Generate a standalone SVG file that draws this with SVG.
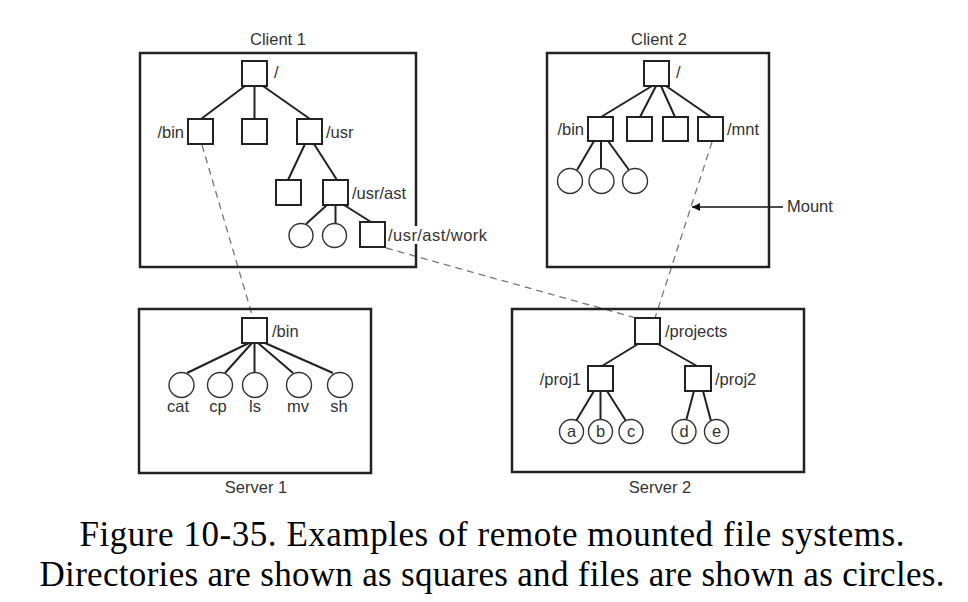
<svg xmlns="http://www.w3.org/2000/svg" width="968" height="602" viewBox="0 0 968 602">
<defs>
<style>
.box{fill:none;stroke:#222;stroke-width:2.5}
.dir{fill:#fff;stroke:#222;stroke-width:2}
.file{fill:#fff;stroke:#333;stroke-width:1.4}
.edge{stroke:#222;stroke-width:2;fill:none}
.dash{stroke:#777;stroke-width:1.3;stroke-dasharray:7,5;fill:none}
.lbl{font-family:"Liberation Sans",Arial,sans-serif;font-size:16.5px;fill:#333}
.mid{text-anchor:middle}
.end{text-anchor:end}
.cap{font-family:"Liberation Serif","Times New Roman",serif;font-size:35px;fill:#000;text-anchor:middle}
</style>
<marker id="ah" viewBox="0 0 10 10" refX="10" refY="5" markerWidth="8" markerHeight="8" markerUnits="userSpaceOnUse" orient="auto">
<path d="M0,0 L10,5 L0,10 Z" fill="#111"/>
</marker>
</defs>

<g id="connectors">
<!-- client 1 tree -->
<path class="edge" d="M245,86 L201,119 M254.5,86 L254.5,119 M263,86 L310,119"/>
<path class="edge" d="M305,144 L288,180 M314,144 L337,180"/>
<path class="edge" d="M327,205 L306,224 M335.5,205 L335.5,223 M344,205 L371,222"/>
<!-- client 2 tree -->
<path class="edge" d="M652,86 L601,117 M656,86 L640,117 M661,86 L675,117 M666,86 L711,117"/>
<path class="edge" d="M594,141 L577,170 M601,141 L601,168.5 M608,141 L629,170"/>
<!-- server 1 tree -->
<path class="edge" d="M249,343 L187,373 M252,343 L225,373 M254.5,343 L254.5,372.5 M258,343 L293,373 M265,343 L333,373"/>
<!-- server 2 tree -->
<path class="edge" d="M638,344 L602,366 M658,344 L697,366"/>
<path class="edge" d="M594,391 L576,421 M600.5,391 L600.5,420 M607,391 L626,421"/>
<path class="edge" d="M694,391 L686,421 M703,391 L711,421"/>
<!-- dashed mount links -->
<path class="dash" d="M202,145 L253,318"/>
<path class="dash" d="M386,248 L636,318"/>
<path class="dash" d="M712,142 L655,318"/>
<!-- Mount arrow -->
<path d="M783,207 L692,207" stroke="#111" stroke-width="1.6" fill="none" marker-end="url(#ah)"/>
</g>

<g id="client1">
<rect class="box" x="140" y="53" width="276" height="214"/>
<text class="lbl mid" x="278" y="45">Client 1</text>
<rect class="dir" x="242" y="61" width="25" height="25"/>
<text class="lbl" x="274" y="78">/</text>
<rect class="dir" x="188" y="119" width="25" height="25"/>
<text class="lbl end" x="184" y="138">/bin</text>
<rect class="dir" x="242" y="119" width="25" height="25"/>
<rect class="dir" x="297" y="119" width="25" height="25"/>
<text class="lbl" x="326" y="138">/usr</text>
<rect class="dir" x="276" y="180" width="25" height="25"/>
<rect class="dir" x="323" y="180" width="25" height="25"/>
<text class="lbl" x="352" y="199">/usr/ast</text>
<circle class="file" cx="301" cy="235.5" r="12"/>
<circle class="file" cx="334.5" cy="235.5" r="12"/>
<rect class="dir" x="360" y="222" width="25" height="25"/>
<rect x="387" y="226" width="102" height="18" fill="#fff"/>
<text class="lbl" x="388" y="241" textLength="99">/usr/ast/work</text>
</g>

<g id="client2">
<rect class="box" x="547" y="53" width="222" height="214"/>
<text class="lbl mid" x="659" y="45">Client 2</text>
<rect class="dir" x="644" y="61" width="25" height="25"/>
<text class="lbl" x="676" y="78">/</text>
<rect class="dir" x="588" y="117" width="25" height="24"/>
<text class="lbl end" x="584" y="135">/bin</text>
<rect class="dir" x="627" y="117" width="25" height="24"/>
<rect class="dir" x="663" y="117" width="25" height="24"/>
<rect class="dir" x="698" y="117" width="25" height="24"/>
<text class="lbl" x="727" y="135">/mnt</text>
<circle class="file" cx="570" cy="181" r="12.5"/>
<circle class="file" cx="601.5" cy="181" r="12.5"/>
<circle class="file" cx="635" cy="181" r="12.5"/>
<text class="lbl" x="787" y="212">Mount</text>
</g>

<g id="server1">
<rect class="box" x="139" y="309" width="232" height="164"/>
<text class="lbl mid" x="256" y="493">Server 1</text>
<rect class="dir" x="242" y="318" width="25" height="25"/>
<text class="lbl" x="272" y="337">/bin</text>
<circle class="file" cx="181.5" cy="385" r="12.5"/>
<circle class="file" cx="220" cy="385" r="12.5"/>
<circle class="file" cx="255" cy="385" r="12.5"/>
<circle class="file" cx="299" cy="385" r="12.5"/>
<circle class="file" cx="340" cy="385" r="12.5"/>
<text class="lbl mid" x="178" y="412">cat</text>
<text class="lbl mid" x="218" y="412">cp</text>
<text class="lbl mid" x="255" y="412">ls</text>
<text class="lbl mid" x="298" y="412">mv</text>
<text class="lbl mid" x="339" y="412">sh</text>
</g>

<g id="server2">
<rect class="box" x="512" y="309" width="292" height="163"/>
<text class="lbl mid" x="660" y="493">Server 2</text>
<rect class="dir" x="635" y="318" width="25" height="26"/>
<text class="lbl" x="665" y="337">/projects</text>
<rect class="dir" x="588" y="366" width="25" height="25"/>
<text class="lbl end" x="581" y="385">/proj1</text>
<rect class="dir" x="685" y="366" width="26" height="25"/>
<text class="lbl" x="715" y="385">/proj2</text>
<circle class="file" cx="571.5" cy="431.5" r="12"/>
<circle class="file" cx="600.5" cy="431.5" r="12"/>
<circle class="file" cx="631" cy="431.5" r="12"/>
<circle class="file" cx="684" cy="431.5" r="12"/>
<circle class="file" cx="716.5" cy="431.5" r="12"/>
<text class="lbl mid" x="571.5" y="437">a</text>
<text class="lbl mid" x="600.5" y="437">b</text>
<text class="lbl mid" x="631" y="437">c</text>
<text class="lbl mid" x="684" y="437">d</text>
<text class="lbl mid" x="716.5" y="437">e</text>
</g>

<g id="caption">
<text class="cap" x="492" y="546" textLength="825">Figure 10-35. Examples of remote mounted file systems.</text>
<text class="cap" x="492" y="586" textLength="905">Directories are shown as squares and files are shown as circles.</text>
</g>
</svg>
